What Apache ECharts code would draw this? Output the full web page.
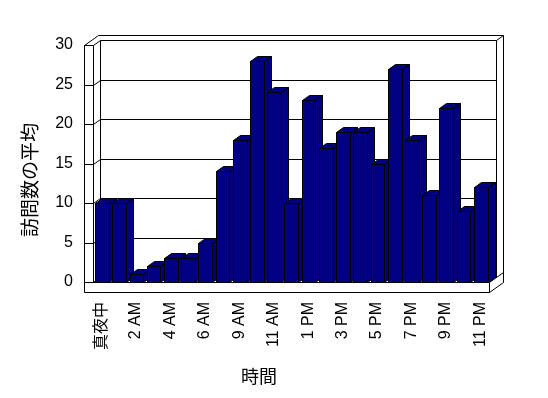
<!DOCTYPE html>
<html>
<head>
<meta charset="utf-8">
<script src="https://cdn.jsdelivr.net/npm/echarts@6/dist/echarts.min.js"></script>
<style>
html,body{margin:0;padding:0;background:#fff;}
#chart{width:548px;height:398px;}
</style>
</head>
<body>
<div id="chart"></div>
<script>
const categories = ['真夜中','1 AM','2 AM','3 AM','4 AM','5 AM','6 AM','8 AM','9 AM','10 AM','11 AM','12 PM','1 PM','2 PM','3 PM','4 PM','5 PM','6 PM','7 PM','8 PM','9 PM','10 PM','11 PM'];
const visits = [10,10,1,2,3,3,5,14,18,28,24,10,23,17,19,19,15,27,18,11,22,9,12];
const yTicks = [0,5,10,15,20,25,30];
const yTitle = '訪問数の平均';
const xTitle = '時間';

const DX = 7, DY = -5, WT = 9, FT = 10;
const FONT = "'Liberation Sans','Noto Sans CJK JP',sans-serif";
const CJK = "'Noto Sans CJK JP',sans-serif";
const px = v => Math.round(v) + 0.5;

function ln(x1, y1, x2, y2) {
  return {type:'line', shape:{x1:px(x1), y1:px(y1), x2:px(x2), y2:px(y2)},
          style:{stroke:'#000', lineWidth:1, fill:null}};
}

function renderFrame(params, api) {
  const cs = params.coordSys;
  const L = cs.x, R = cs.x + cs.width, T = cs.y, B = cs.y + cs.height;
  const ch = [];
  ch.push({type:'polygon', shape:{points:[[L-WT,T],[L-WT+2*DX,T+2*DY],[R+2*DX,T+2*DY],[R+2*DX,B+FT+2*DY],[R,B+FT],[L-WT,B+FT]]},
           style:{fill:'#fff', stroke:null}});
  yTicks.forEach(t => {
    const y = api.coord([0, t])[1];
    ch.push(ln(L+DX, y+DY, R+DX, y+DY));
    ch.push(ln(L, y, L+DX, y+DY));
    ch.push(ln(L-WT, y, L, y));
  });
  ch.push(ln(L-WT, T, L-WT, B+FT));
  ch.push(ln(L, T, L, B));
  ch.push(ln(L+DX, T+DY, L+DX, B+DY));
  ch.push(ln(R+DX, T+DY, R+DX, B+DY));
  ch.push(ln(R+2*DX, T+2*DY, R+2*DX, B+FT+2*DY));
  ch.push(ln(R, B, R, B+FT));
  ch.push(ln(L-WT, T, L-WT+2*DX, T+2*DY));
  ch.push(ln(L-WT+2*DX, T+2*DY, R+2*DX, T+2*DY));
  ch.push(ln(R+DX, T+DY, R+2*DX, T+2*DY));
  ch.push(ln(L-WT, B+FT, R, B+FT));
  ch.push(ln(R, B+FT, R+2*DX, B+FT+2*DY));
  ch.push(ln(R, B, R+2*DX, B+2*DY));
  ch.push(ln(L, B, R, B));
  return {type:'group', children:ch};
}

function renderBar(params, api) {
  const idx = api.value(0), v = api.value(1);
  const band = api.size([1, 0])[0];
  const c = api.coord([idx, v]);
  const base = Math.round(api.coord([idx, 0])[1]) + 0.5;
  const xl = px(c[0] - band/2 + band*0.12);
  const xr = px(c[0] - band/2 + band*0.12 + band*0.8);
  const yt = px(c[1]);
  const style = {fill:'#000080', stroke:'#000', lineWidth:1};
  return {type:'group', children:[
    {type:'polygon', shape:{points:[[xr,yt],[xr+DX,yt+DY],[xr+DX,base+DY],[xr,base]]}, style:style},
    {type:'polygon', shape:{points:[[xl,yt],[xr,yt],[xr+DX,yt+DY],[xl+DX,yt+DY]]}, style:style},
    {type:'polygon', shape:{points:[[xl,yt],[xr,yt],[xr,base],[xl,base]]}, style:style}
  ]};
}

const chart = echarts.init(document.getElementById('chart'), null, {renderer:'canvas'});
chart.setOption({
  animation:false,
  backgroundColor:'#fff',
  grid:{left:93, right:59, top:45, bottom:116, containLabel:false},
  xAxis:{
    type:'category', data:categories, boundaryGap:true,
    axisLine:{show:false},
    axisTick:{show:true, interval:0, length:FT, inside:false, lineStyle:{color:'#000', width:1}},
    axisLabel:{interval:1, rotate:90, margin:20, color:'#000', fontSize:16, fontFamily:FONT},
    splitLine:{show:false}
  },
  yAxis:{
    type:'value', min:0, max:30, interval:5,
    axisLine:{show:false}, axisTick:{show:false}, splitLine:{show:false},
    axisLabel:{margin:20, color:'#000', fontSize:16, fontFamily:FONT}
  },
  graphic:[
    {type:'text', left:null, x:30, y:180, rotation:Math.PI/2,
     style:{text:yTitle, fill:'#000', font:'19px ' + CJK, textAlign:'center', textVerticalAlign:'middle'}},
    {type:'text', x:259, y:376,
     style:{text:xTitle, fill:'#000', font:'18px ' + CJK, textAlign:'center', textVerticalAlign:'middle'}}
  ],
  series:[
    {type:'custom', name:'frame', renderItem:renderFrame, data:[[0,0]], encode:{x:0,y:1}, z:1, clip:false, silent:true},
    {type:'custom', name:'訪問数の平均', renderItem:renderBar,
     data:visits.map((v,i)=>[i,v]), encode:{x:0,y:1}, z:2, clip:false}
  ]
});
</script>
</body>
</html>
